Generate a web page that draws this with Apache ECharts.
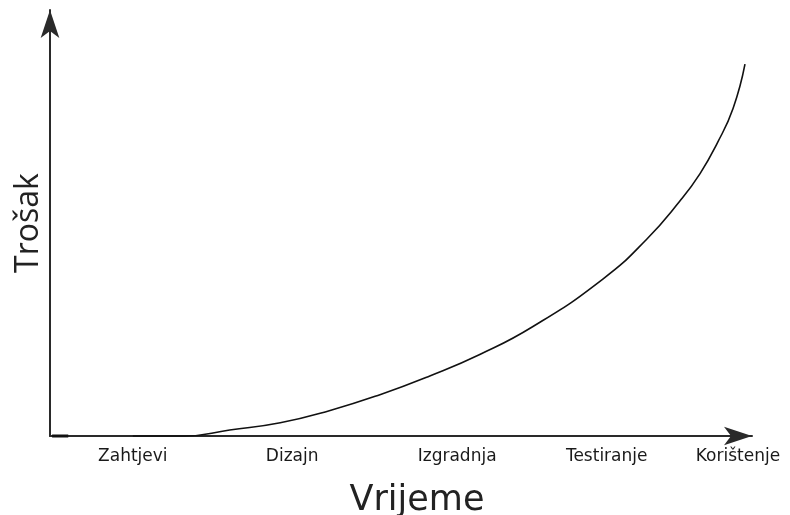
<!DOCTYPE html>
<html>
<head>
<meta charset="utf-8">
<title>Trošak / Vrijeme</title>
<script src="https://cdn.jsdelivr.net/npm/echarts@6/dist/echarts.min.js"></script>
<style>
  html, body { margin: 0; padding: 0; background: #fff; }
  #main { width: 790px; height: 515px; }
</style>
</head>
<body>
<div id="main"></div>
<script>
//faze projekta i njihov polozaj na vremenskoj osi
var phases = ['Zahtjevi', 'Dizajn', 'Izgradnja', 'Testiranje', 'Korištenje'];
var phaseTimes = [11.8, 34.5, 58.0, 79.3, 98.0];

//krivulja troska (vrijeme, trosak)
var curveTime = [11.8, 19.2, 25.6, 32.8, 39.9, 47.0, 54.1, 61.3, 68.8, 78.8, 85.0, 89.7, 92.6, 95.0, 97.3, 99.0];
var curveCost = [0, 0, 1.4, 3.1, 6.0, 9.7, 14.1, 19.2, 25.7, 36.9, 46.2, 55.1, 61.6, 68.6, 76.9, 87.3];

//kratka crtica kod ishodista
var stubTime = [0.3, 2.6];
var stubCost = [0, 0];

function pairs(xs, ys) {
  return xs.map(function (x, i) { return [x, ys[i]]; });
}

function renderChart() {
  var myChart = echarts.init(document.getElementById('main'));
  var axisLine = {
    show: true,
    symbol: ['none', 'arrow'],
    symbolSize: [14, 28],
    lineStyle: { color: '#2a2a2a', width: 2 }
  };
  var options = {
    backgroundColor: '#fff',
    animation: false,
    grid: { left: 50, right: 38, top: 10, bottom: 79, outerBoundsMode: 'none' },
    xAxis: {
      type: 'value',
      min: 0,
      max: 100,
      name: 'Vrijeme',
      nameLocation: 'middle',
      nameGap: 47,
      nameTextStyle: { fontFamily: 'DejaVu Sans', fontSize: 35, color: '#222', padding: [0, 0, 0, 32] },
      axisLine: axisLine,
      axisTick: { show: false },
      splitLine: { show: false },
      axisLabel: {
        customValues: phaseTimes,
        margin: 12,
        fontFamily: 'DejaVu Sans',
        fontSize: 17,
        color: '#1a1a1a',
        formatter: function (v) {
          var i = phaseTimes.indexOf(v);
          return i >= 0 ? phases[i] : '';
        }
      }
    },
    yAxis: {
      type: 'value',
      min: 0,
      max: 100,
      name: 'Trošak',
      nameLocation: 'middle',
      nameGap: 5,
      nameTextStyle: { fontFamily: 'Open Sans', fontSize: 32, color: '#222' },
      axisLine: axisLine,
      axisTick: { show: false },
      axisLabel: { show: false },
      splitLine: { show: false }
    },
    series: [{
      type: 'line',
      data: pairs(curveTime, curveCost),
      smooth: 0.5,
      clip: false,
      showSymbol: false,
      lineStyle: { color: '#111', width: 1.6 }
    }, {
      type: 'line',
      data: pairs(stubTime, stubCost),
      clip: false,
      showSymbol: false,
      lineStyle: { color: '#111', width: 3 }
    }]
  };
  myChart.setOption(options, true);
}

renderChart();
</script>
</body>
</html>
